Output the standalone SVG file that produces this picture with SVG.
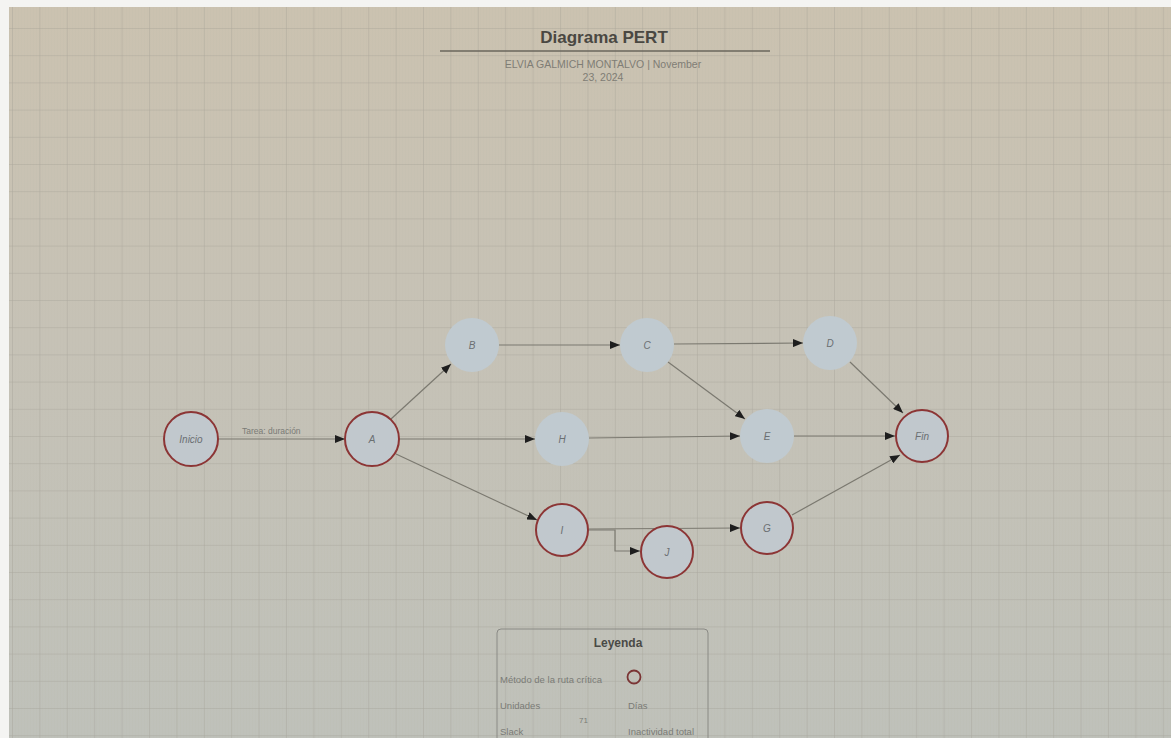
<svg xmlns="http://www.w3.org/2000/svg" width="1171" height="738" viewBox="0 0 1171 738">
  <defs>
    <linearGradient id="bg" x1="0" y1="0" x2="0" y2="1">
      <stop offset="0" stop-color="#cbc2b0"/>
      <stop offset="0.45" stop-color="#c6c2b6"/>
      <stop offset="1" stop-color="#bfc1ba"/>
    </linearGradient>
    <pattern id="grid" x="12" y="28" width="27.4" height="27.2" patternUnits="userSpaceOnUse">
      <path d="M0 0 V27.2 M0 0 H27.4" fill="none" stroke="#9c988e" stroke-width="1" opacity="0.6"/>
    </pattern>
    <pattern id="fine" x="0" y="0" width="3" height="3" patternUnits="userSpaceOnUse">
      <path d="M0 0 V3" stroke="#aaa8a0" stroke-width="1" opacity="0.12"/>
    </pattern>
    <marker id="arr" viewBox="0 0 10 8" refX="10" refY="4" markerWidth="10" markerHeight="8" markerUnits="userSpaceOnUse" orient="auto">
      <path d="M0 0 L10 4 L0 8 Z" fill="#1e1e1e"/>
    </marker>
  </defs>
  <style>
    .edge { fill: none; stroke: #7b7970; stroke-width: 1.2; marker-end: url(#arr); }
    .crit { fill: #c1c8cd; stroke: #8c3535; stroke-width: 2; }
    .norm { fill: #c0cad0; stroke: none; }
    .lbl { font-family: "Liberation Sans", Arial, sans-serif; font-size: 10px; font-style: italic; fill: #6b6f72; text-anchor: middle; dominant-baseline: central; }
    .title { font-family: "Liberation Sans", Arial, sans-serif; font-size: 17px; font-weight: bold; fill: #4a4842; text-anchor: middle; }
    .sub { font-family: "Liberation Sans", Arial, sans-serif; font-size: 10.5px; fill: #7f7d75; text-anchor: middle; }
    .leg { font-family: "Liberation Sans", Arial, sans-serif; font-size: 9.5px; fill: #7a7b76; }
    .legt { font-family: "Liberation Sans", Arial, sans-serif; font-size: 12px; font-weight: bold; fill: #4a4a46; text-anchor: middle; }
  </style>
  <rect x="0" y="0" width="1171" height="738" fill="#f4f4f2"/>
  <rect x="9" y="7" width="1162" height="731" fill="url(#bg)"/>
  <rect x="9" y="7" width="1162" height="731" fill="url(#fine)"/>
  <rect x="9" y="7" width="1162" height="731" fill="url(#grid)"/>

  <g id="header">
    <text class="title" x="604" y="43">Diagrama PERT</text>
    <line x1="440" y1="51" x2="770" y2="51" stroke="#6a665d" stroke-width="1.5"/>
    <text class="sub" x="603" y="68">ELVIA GALMICH MONTALVO  |  November</text>
    <text class="sub" x="603" y="81">23, 2024</text>
  </g>

  <g id="connectors">
    <line class="edge" x1="218" y1="439" x2="345" y2="439"/>
    <text class="leg" x="242" y="434" style="font-size:8.5px">Tarea: duración</text>
    <line class="edge" x1="391" y1="419" x2="451" y2="364"/>
    <line class="edge" x1="499" y1="345" x2="620" y2="345"/>
    <line class="edge" x1="674" y1="344" x2="803" y2="343"/>
    <line class="edge" x1="668" y1="362" x2="745" y2="419"/>
    <line class="edge" x1="850" y1="362" x2="903" y2="413"/>
    <line class="edge" x1="399" y1="439" x2="535" y2="439"/>
    <line class="edge" x1="589" y1="438" x2="740" y2="436"/>
    <line class="edge" x1="794" y1="436" x2="895" y2="436"/>
    <line class="edge" x1="396" y1="454" x2="537" y2="520"/>
    <line class="edge" x1="589" y1="529" x2="740" y2="528"/>
    <polyline class="edge" points="589,530 615,530 615,551 640,551"/>
    <line class="edge" x1="792" y1="515" x2="900" y2="455"/>
  </g>

  <g id="node-inicio"><circle class="crit" cx="191" cy="439" r="27"/><text class="lbl" x="191" y="439">Inicio</text></g>
  <g id="node-A"><circle class="crit" cx="372" cy="439" r="27"/><text class="lbl" x="372" y="439">A</text></g>
  <g id="node-B"><circle class="norm" cx="472" cy="345" r="27"/><text class="lbl" x="472" y="345">B</text></g>
  <g id="node-C"><circle class="norm" cx="647" cy="345" r="27"/><text class="lbl" x="647" y="345">C</text></g>
  <g id="node-D"><circle class="norm" cx="830" cy="343" r="27"/><text class="lbl" x="830" y="343">D</text></g>
  <g id="node-H"><circle class="norm" cx="562" cy="439" r="27"/><text class="lbl" x="562" y="439">H</text></g>
  <g id="node-E"><circle class="norm" cx="767" cy="436" r="27"/><text class="lbl" x="767" y="436">E</text></g>
  <g id="node-fin"><circle class="crit" cx="922" cy="436" r="26"/><text class="lbl" x="922" y="436">Fin</text></g>
  <g id="node-I"><circle class="crit" cx="562" cy="530" r="26"/><text class="lbl" x="562" y="530">I</text></g>
  <g id="node-J"><circle class="crit" cx="667" cy="552" r="26"/><text class="lbl" x="667" y="552">J</text></g>
  <g id="node-G"><circle class="crit" cx="767" cy="528" r="26"/><text class="lbl" x="767" y="528">G</text></g>

  <g id="legend">
    <rect x="497" y="629" width="211" height="125" rx="4" fill="none" stroke="#8a8a85" stroke-width="1"/>
    <text class="legt" x="618" y="647">Leyenda</text>
    <text class="leg" x="500" y="683">Método de la ruta crítica</text>
    <circle cx="634" cy="677" r="6.5" fill="none" stroke="#7a3434" stroke-width="1.8"/>
    <text class="leg" x="500" y="709">Unidades</text>
    <text class="leg" x="628" y="709">Días</text>
    <text class="leg" x="579" y="723" style="font-size:8px">71</text>
    <text class="leg" x="500" y="735">Slack</text>
    <text class="leg" x="628" y="735">Inactividad total</text>
  </g>
</svg>
